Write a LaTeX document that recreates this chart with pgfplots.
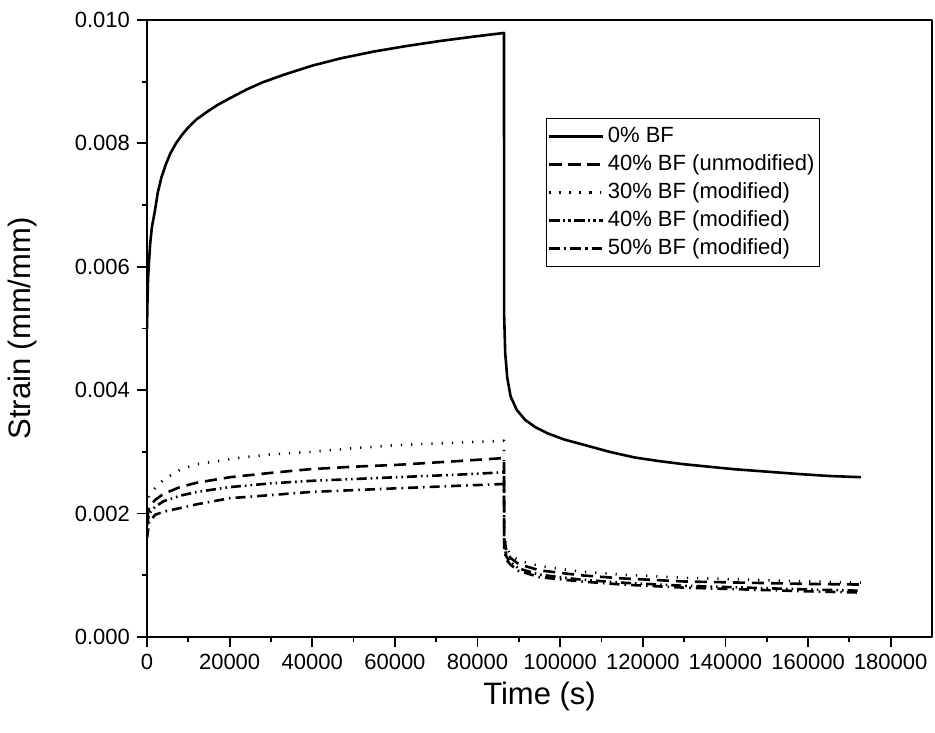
\documentclass[border=0pt]{standalone}
\usepackage{fontspec}
\setmainfont{Liberation Sans}
\usepackage{pgfplots}
\pgfplotsset{compat=1.18}
\usepackage{pgfplotstable}

\pgfplotstableread{
t s
0 0.0050
100 0.0054
250 0.0058
500 0.0061
800 0.0064
1200 0.00665
1900 0.0069
2600 0.0072
3500 0.00745
4500 0.00765
5600 0.00783
7000 0.0080
8500 0.00814
10000 0.00826
12000 0.00839
14500 0.00851
17000 0.00862
20000 0.00873
24000 0.00887
28000 0.00899
33000 0.00911
40000 0.00926
47000 0.00938
55000 0.00949
63000 0.00958
71000 0.00966
79000 0.00973
86400 0.00979
86450 0.0052
86700 0.0046
87200 0.0042
88000 0.0039
89500 0.00368
91500 0.00352
94000 0.0034
97000 0.0033
101000 0.0032
106000 0.00311
112000 0.00300
118000 0.00291
124000 0.00285
130000 0.00280
136000 0.00276
142000 0.00272
150000 0.00268
158000 0.00264
165000 0.00261
172800 0.00259
}\bfzero

\pgfplotstableread{
t s
0 0.0019
500 0.0021
1940 0.00222
4000 0.00232
8000 0.00243
12000 0.0025
20100 0.00259
30000 0.00266
39500 0.00272
50000 0.00276
60500 0.00279
75000 0.00285
86400 0.0029
86450 0.0016
87000 0.0014
88000 0.00128
90000 0.00118
95000 0.00108
105000 0.001
115000 0.00095
130000 0.0009
145000 0.00088
160000 0.00086
172800 0.00085
}\bffortyun

\pgfplotstableread{
t s
0 0.0021
500 0.00228
1940 0.00241
4000 0.00255
8000 0.00271
12000 0.0028
21800 0.0029
30000 0.00296
39500 0.0030
50000 0.00306
60500 0.00311
75000 0.00315
86400 0.00318
86450 0.0017
87000 0.00145
88000 0.00133
90000 0.00124
95000 0.00115
105000 0.00106
115000 0.00101
130000 0.00096
145000 0.00093
160000 0.0009
172800 0.00088
}\bfthirty

\pgfplotstableread{
t s
0 0.0018
500 0.0020
1940 0.00211
4000 0.0022
8000 0.00229
12000 0.00235
20100 0.00243
30000 0.00249
39500 0.00253
50000 0.00256
60500 0.00259
75000 0.00263
86400 0.00267
86450 0.0015
87000 0.0013
88000 0.00121
90000 0.00111
95000 0.00101
105000 0.00093
115000 0.00088
130000 0.00083
145000 0.0008
160000 0.00077
172800 0.00075
}\bfforty

\pgfplotstableread{
t s
0 0.0016
500 0.00185
1940 0.00198
4000 0.00203
8000 0.00209
12000 0.00215
20100 0.00225
30000 0.0023
39500 0.00235
50000 0.00238
60500 0.00241
75000 0.00245
86400 0.00248
86450 0.0014
87000 0.00125
88000 0.00117
90000 0.00107
95000 0.00097
105000 0.0009
115000 0.00085
130000 0.0008
145000 0.00077
160000 0.00074
172800 0.00072
}\bffifty

\begin{document}
\begin{tikzpicture}
\useasboundingbox (-73.5pt,-47.5pt) rectangle (394pt,318.5pt);
\begin{axis}[
  at={(0,0)}, anchor=south west,
  scale only axis,
  width=392.5pt, height=308.5pt,
  xmin=0, xmax=190000, ymin=0, ymax=0.010,
  xtick={0,20000,40000,60000,80000,100000,120000,140000,160000,180000},
  ytick={0,0.002,0.004,0.006,0.008,0.010},
  minor x tick num=1, minor y tick num=1,
  xtick pos=left, ytick pos=left,
  tick align=outside,
  major tick length=5pt, minor tick length=2.5pt,
  every tick/.style={black, line width=0.9pt},
  axis line style={line width=1pt},
  scaled x ticks=false, scaled y ticks=false,
  xticklabel style={/pgf/number format/.cd, fixed, 1000 sep={}},
  yticklabel style={/pgf/number format/.cd, fixed, fixed zerofill, precision=3},
  /pgf/number format/assume math mode=true,
  tick label style={font=\fontsize{11}{13}\selectfont},
  xlabel={Time (s)}, ylabel={Strain (mm/mm)},
  every axis x label/.style={at={(axis description cs:0.5,-0.097)}, anchor=center, font=\fontsize{15.5}{18}\selectfont},
  every axis y label/.style={at={(axis description cs:-0.159,0.5)}, anchor=center, rotate=90, font=\fontsize{15.5}{18}\selectfont},
  legend style={at={(axis description cs:0.508,0.841)}, anchor=north west,
    font=\fontsize{11}{13}\selectfont, draw=black, line width=0.5pt,
    inner xsep=0.5pt, inner ysep=2pt, row sep=0pt,
    nodes={text height=8.5pt, text depth=2.5pt, inner ysep=1.5pt, inner xsep=2pt}},
  legend cell align=left,
  legend image code/.code={\path (0pt,0pt) -- (27pt,0pt); \draw[#1] (0.5pt,0pt) -- (26pt,0pt);},
  line join=round,
]
\addplot[black, line width=1.3pt] table[x=t,y=s] {\bfzero};
\addlegendentry{0\% BF}
\addplot[black, line width=1.3pt, dash pattern=on 6pt off 3.5pt] table[x=t,y=s] {\bffortyun};
\addlegendentry{40\% BF (unmodified)}
\addplot[black, line width=1.3pt, dash pattern=on 0.6pt off 4.5pt] table[x=t,y=s] {\bfthirty};
\addlegendentry{30\% BF (modified)}
\addplot[black, line width=1.3pt, dash pattern=on 5pt off 2pt on 0.8pt off 2pt on 0.8pt off 2pt] table[x=t,y=s] {\bfforty};
\addlegendentry{40\% BF (modified)}
\addplot[black, line width=1.3pt, dash pattern=on 5pt off 2.5pt on 0.8pt off 2.5pt] table[x=t,y=s] {\bffifty};
\addlegendentry{50\% BF (modified)}
\end{axis}
\end{tikzpicture}
\end{document}
